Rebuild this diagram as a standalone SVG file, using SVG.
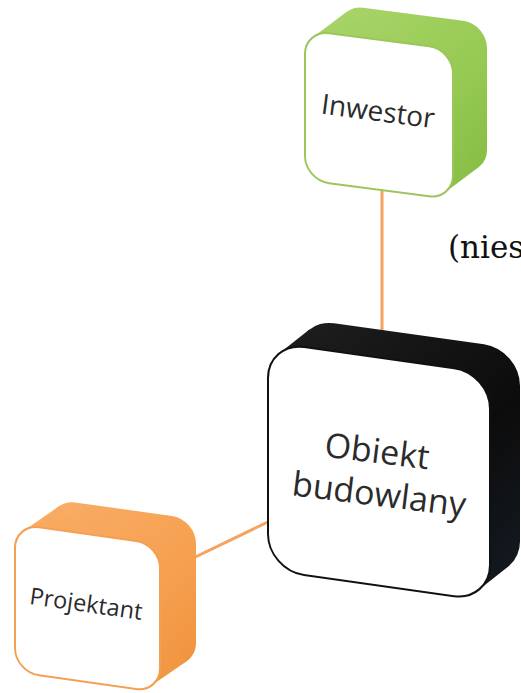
<svg xmlns="http://www.w3.org/2000/svg" width="521" height="693" viewBox="0 0 521 693">
<defs>
<linearGradient id="gGreen" x1="0" y1="0" x2="1" y2="1">
<stop offset="0" stop-color="#a9d46a"/><stop offset="0.6" stop-color="#96ca52"/><stop offset="1" stop-color="#86bd43"/>
</linearGradient>
<linearGradient id="gOrange" x1="0" y1="0" x2="1" y2="1">
<stop offset="0" stop-color="#f9ad66"/><stop offset="0.6" stop-color="#f6a050"/><stop offset="1" stop-color="#f0933c"/>
</linearGradient>
<linearGradient id="gBlack" x1="0" y1="0" x2="1" y2="1">
<stop offset="0" stop-color="#1e1e1e"/><stop offset="0.6" stop-color="#0c0c0c"/><stop offset="1" stop-color="#141a22"/>
</linearGradient>
<style>
.face{fill:#ffffff;stroke-width:2}
.lbl{font-family:"Open Sans","Liberation Sans",sans-serif;fill:#2b2b2b;text-anchor:middle}
.conn{stroke:#f5a35e;stroke-width:3;fill:none}
</style>
</defs>
<rect width="521" height="693" fill="#ffffff"/>
<g id="connectors">
<line class="conn" x1="382" y1="190" x2="382" y2="340"/>
<line class="conn" x1="185" y1="562" x2="272" y2="520"/>
</g>
<g id="inwestor">
<g transform="translate(305 0) skewY(7.5) translate(-305 0)">
<rect x="339" y="0" width="148" height="150" rx="24" fill="url(#gGreen)"/>
<polygon points="313.1,36 347.1,6 478.9,144 444.9,174" fill="url(#gGreen)"/>
<rect class="face" x="305" y="30" width="148" height="150" rx="24" stroke="#9cc65c"/>
</g>
<text class="lbl" x="378" y="121" font-size="28" transform="rotate(7.5 378 112)">Inwestor</text>
</g>
<g id="obiekt">
<g transform="translate(268 0) skewY(8) translate(-268 0)">
<rect x="298" y="314" width="222" height="228" rx="36" fill="url(#gBlack)"/>
<polygon points="279.4,351.6 309.4,323.6 508.6,532.4 478.6,560.4" fill="url(#gBlack)"/>
<rect class="face" x="268" y="342" width="222" height="228" rx="36" stroke="#111111"/>
</g>
<text class="lbl" x="377" y="463" font-size="34" transform="rotate(7 377 452)">Obiekt</text>
<text class="lbl" x="379" y="506" font-size="34" transform="rotate(7 379 495)">budowlany</text>
</g>
<g id="projektant">
<g transform="translate(15 0) skewY(8) translate(-15 0)">
<rect x="51" y="494" width="145" height="148" rx="24" fill="url(#gOrange)"/>
<polygon points="23.6,529.6 59.6,499.6 187.4,636.4 151.4,666.4" fill="url(#gOrange)"/>
<rect class="face" x="15" y="524" width="145" height="148" rx="24" stroke="#f3a052"/>
</g>
<text class="lbl" x="86" y="612" font-size="23.5" transform="rotate(8 86 605)">Projektant</text>
</g>
<text x="448" y="258" font-family="DejaVu Serif,serif" font-size="31" fill="#111111">(nies</text>
</svg>
